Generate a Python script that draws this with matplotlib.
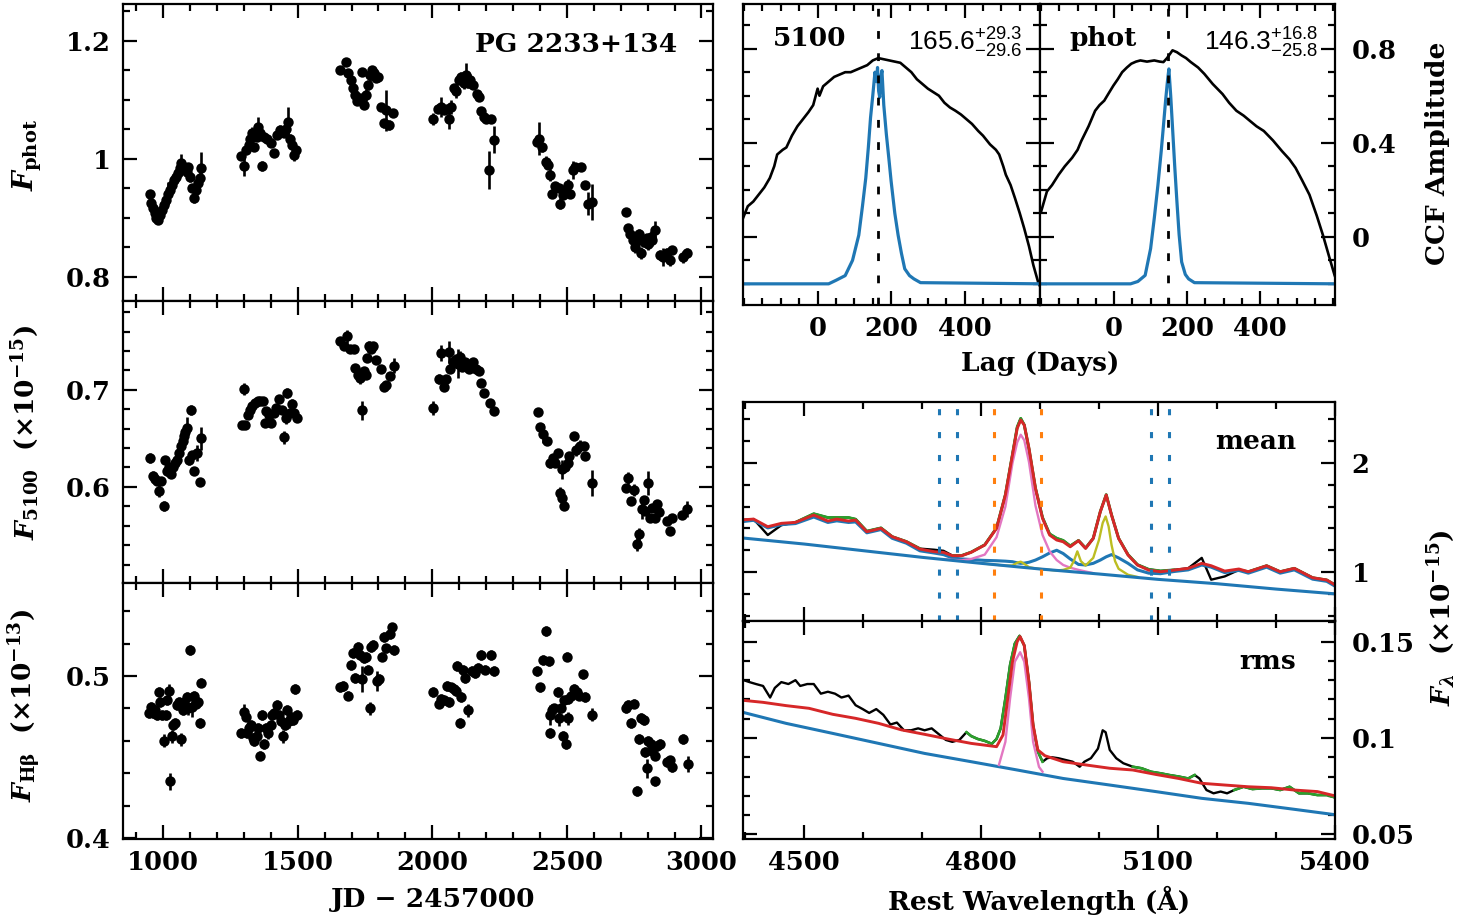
import numpy as np
import matplotlib
matplotlib.use('Agg')
import matplotlib.pyplot as plt
from matplotlib.ticker import MultipleLocator, FixedLocator, FuncFormatter

plt.rcParams['font.family'] = 'DejaVu Serif'
plt.rcParams['font.weight'] = 'bold'
plt.rcParams['mathtext.fontset'] = 'custom'
plt.rcParams['mathtext.rm'] = 'DejaVu Serif:bold'
plt.rcParams['mathtext.bf'] = 'DejaVu Serif:bold'
plt.rcParams['mathtext.it'] = 'DejaVu Serif:italic:bold'
plt.rcParams['mathtext.sf'] = 'Liberation Sans:weight=normal'
plt.rcParams['axes.linewidth'] = 1.6

# ---------------- light curves: (JD-2457000, flux, error) ----------------
phot = [
    (950, 0.941, 0.006), (955, 0.925, 0.006), (963, 0.916, 0.006), (969, 0.908, 0.006), (975, 0.900, 0.006),
    (980, 0.896, 0.006), (988, 0.905, 0.006), (995, 0.913, 0.006), (1002, 0.921, 0.008), (1010, 0.930, 0.006),
    (1017, 0.941, 0.020), (1025, 0.947, 0.008), (1032, 0.955, 0.006), (1040, 0.964, 0.008), (1047, 0.969, 0.006),
    (1054, 0.975, 0.006), (1062, 0.984, 0.006), (1068, 0.993, 0.015), (1077, 0.986, 0.006), (1087, 0.978, 0.006),
    (1094, 0.986, 0.006), (1101, 0.969, 0.008), (1106, 0.950, 0.006), (1114, 0.933, 0.008), (1121, 0.947, 0.006),
    (1129, 0.958, 0.008), (1136, 0.967, 0.010), (1142, 0.984, 0.027),
    (1290, 1.005, 0.006), (1302, 0.988, 0.018), (1309, 1.014, 0.006), (1318, 1.023, 0.006), (1324, 1.034, 0.008),
    (1332, 1.044, 0.010), (1339, 1.019, 0.006), (1347, 1.037, 0.006), (1354, 1.054, 0.017), (1361, 1.043, 0.006),
    (1369, 0.988, 0.008), (1376, 1.037, 0.006), (1386, 1.034, 0.006), (1399, 1.026, 0.006), (1411, 1.009, 0.006),
    (1423, 1.040, 0.006), (1436, 1.049, 0.008), (1448, 1.043, 0.006), (1458, 1.051, 0.008), (1464, 1.063, 0.025),
    (1470, 1.034, 0.008), (1478, 1.023, 0.006), (1485, 1.006, 0.010), (1493, 1.015, 0.006),
    (1658, 1.150, 0.006), (1678, 1.164, 0.006), (1688, 1.145, 0.006), (1698, 1.133, 0.006), (1705, 1.119, 0.008),
    (1714, 1.108, 0.006), (1720, 1.097, 0.006), (1730, 1.102, 0.006), (1740, 1.147, 0.006), (1748, 1.091, 0.006),
    (1753, 1.108, 0.010), (1760, 1.125, 0.008), (1767, 1.142, 0.012), (1775, 1.150, 0.006), (1782, 1.145, 0.006),
    (1790, 1.136, 0.006), (1800, 1.139, 0.006), (1809, 1.088, 0.006), (1819, 1.060, 0.008), (1827, 1.082, 0.035),
    (1839, 1.057, 0.008), (1854, 1.077, 0.006),
    (2002, 1.067, 0.010), (2023, 1.085, 0.008), (2033, 1.088, 0.017), (2043, 1.082, 0.006), (2054, 1.085, 0.006),
    (2061, 1.068, 0.017), (2068, 1.088, 0.012), (2079, 1.119, 0.006), (2088, 1.115, 0.012), (2098, 1.133, 0.006),
    (2108, 1.139, 0.008), (2116, 1.128, 0.010), (2125, 1.142, 0.020), (2132, 1.128, 0.008), (2141, 1.133, 0.010),
    (2153, 1.125, 0.006), (2166, 1.110, 0.006), (2175, 1.104, 0.006), (2182, 1.080, 0.006), (2192, 1.071, 0.006),
    (2199, 1.067, 0.006), (2209, 0.981, 0.032), (2219, 1.067, 0.006), (2229, 1.032, 0.023),
    (2390, 1.029, 0.006), (2397, 1.034, 0.028), (2407, 1.019, 0.008), (2422, 0.995, 0.010), (2430, 0.989, 0.006),
    (2437, 0.972, 0.010), (2444, 0.941, 0.006), (2457, 0.953, 0.006), (2469, 0.950, 0.006), (2475, 0.924, 0.010),
    (2484, 0.938, 0.006), (2494, 0.947, 0.008), (2504, 0.955, 0.010), (2512, 0.941, 0.006), (2524, 0.981, 0.015),
    (2531, 0.986, 0.006), (2551, 0.986, 0.006), (2566, 0.955, 0.006), (2580, 0.924, 0.020), (2593, 0.927, 0.030),
    (2720, 0.910, 0.006), (2727, 0.882, 0.006), (2735, 0.873, 0.006), (2744, 0.862, 0.006), (2754, 0.851, 0.010),
    (2761, 0.862, 0.015), (2769, 0.873, 0.008), (2776, 0.840, 0.010), (2786, 0.859, 0.008), (2796, 0.865, 0.006),
    (2803, 0.856, 0.010), (2811, 0.868, 0.010), (2818, 0.862, 0.010), (2828, 0.879, 0.015), (2847, 0.837, 0.008),
    (2859, 0.834, 0.015), (2871, 0.840, 0.008), (2884, 0.828, 0.010), (2892, 0.845, 0.006), (2933, 0.834, 0.010),
    (2946, 0.840, 0.008),
]

f5100 = [
    (953, 0.630, 0.005), (963, 0.611, 0.005), (970, 0.608, 0.004), (978, 0.606, 0.004), (985, 0.596, 0.006),
    (993, 0.606, 0.004), (1002, 0.580, 0.005), (1007, 0.628, 0.004), (1015, 0.616, 0.005), (1022, 0.621, 0.004),
    (1030, 0.613, 0.004), (1037, 0.621, 0.004), (1045, 0.625, 0.004), (1052, 0.628, 0.004), (1059, 0.635, 0.004),
    (1067, 0.642, 0.005), (1072, 0.647, 0.005), (1077, 0.652, 0.006), (1082, 0.657, 0.005), (1089, 0.661, 0.011),
    (1097, 0.628, 0.005), (1104, 0.679, 0.005), (1109, 0.633, 0.004), (1116, 0.616, 0.004), (1124, 0.635, 0.008),
    (1136, 0.605, 0.004), (1142, 0.650, 0.012),
    (1293, 0.664, 0.004), (1302, 0.701, 0.006), (1306, 0.664, 0.004), (1314, 0.674, 0.004), (1322, 0.679, 0.004),
    (1332, 0.683, 0.004), (1342, 0.686, 0.004), (1351, 0.689, 0.004), (1361, 0.688, 0.004), (1371, 0.688, 0.004),
    (1379, 0.666, 0.004), (1384, 0.678, 0.004), (1394, 0.674, 0.004), (1401, 0.666, 0.004), (1411, 0.676, 0.004),
    (1421, 0.681, 0.004), (1431, 0.691, 0.004), (1441, 0.679, 0.004), (1448, 0.651, 0.007), (1455, 0.671, 0.006),
    (1460, 0.697, 0.005), (1470, 0.676, 0.004), (1478, 0.685, 0.006), (1488, 0.676, 0.004), (1498, 0.671, 0.004),
    (1658, 0.750, 0.004), (1673, 0.745, 0.004), (1683, 0.755, 0.007), (1693, 0.742, 0.004), (1708, 0.742, 0.004),
    (1714, 0.722, 0.004), (1723, 0.715, 0.004), (1730, 0.712, 0.006), (1740, 0.679, 0.010), (1745, 0.719, 0.004),
    (1752, 0.715, 0.004), (1757, 0.733, 0.004), (1764, 0.745, 0.005), (1772, 0.742, 0.004), (1780, 0.745, 0.004),
    (1792, 0.731, 0.004), (1809, 0.721, 0.004), (1819, 0.703, 0.004), (1829, 0.705, 0.004), (1844, 0.714, 0.004),
    (1856, 0.725, 0.008),
    (2002, 0.681, 0.007), (2024, 0.711, 0.005), (2033, 0.738, 0.008), (2042, 0.703, 0.004), (2051, 0.711, 0.004),
    (2061, 0.739, 0.011), (2067, 0.721, 0.004), (2076, 0.729, 0.004), (2085, 0.731, 0.006), (2095, 0.727, 0.015),
    (2104, 0.734, 0.006), (2110, 0.724, 0.004), (2120, 0.729, 0.004), (2129, 0.724, 0.004), (2137, 0.721, 0.004),
    (2150, 0.729, 0.004), (2162, 0.721, 0.004), (2172, 0.719, 0.004), (2182, 0.707, 0.004), (2194, 0.697, 0.004),
    (2215, 0.686, 0.004), (2230, 0.678, 0.004),
    (2391, 0.677, 0.004), (2401, 0.662, 0.004), (2413, 0.655, 0.010), (2426, 0.647, 0.004), (2438, 0.625, 0.006),
    (2447, 0.630, 0.004), (2457, 0.625, 0.004), (2467, 0.635, 0.004), (2473, 0.594, 0.006), (2481, 0.589, 0.004),
    (2491, 0.580, 0.004), (2481, 0.618, 0.010), (2494, 0.621, 0.004), (2504, 0.625, 0.006), (2509, 0.632, 0.004),
    (2525, 0.652, 0.004), (2533, 0.638, 0.006), (2549, 0.642, 0.006), (2562, 0.642, 0.004), (2568, 0.632, 0.004),
    (2593, 0.604, 0.013),
    (2720, 0.599, 0.004), (2727, 0.609, 0.006), (2738, 0.585, 0.004), (2750, 0.597, 0.006), (2760, 0.541, 0.007),
    (2769, 0.551, 0.007), (2779, 0.577, 0.010), (2785, 0.587, 0.004), (2791, 0.575, 0.004), (2801, 0.604, 0.012),
    (2810, 0.568, 0.004), (2818, 0.578, 0.004), (2826, 0.568, 0.004), (2835, 0.582, 0.004), (2843, 0.574, 0.004),
    (2873, 0.565, 0.004), (2882, 0.555, 0.004), (2892, 0.568, 0.004), (2927, 0.571, 0.004), (2946, 0.577, 0.008),
]

fhb = [
    (947, 0.477, 0.003), (955, 0.481, 0.003), (963, 0.477, 0.003), (970, 0.479, 0.003), (978, 0.476, 0.003),
    (985, 0.490, 0.003), (990, 0.484, 0.003), (995, 0.476, 0.003), (1002, 0.460, 0.004), (1009, 0.476, 0.003),
    (1015, 0.485, 0.003), (1021, 0.491, 0.004), (1027, 0.435, 0.005), (1032, 0.463, 0.004), (1037, 0.470, 0.003),
    (1045, 0.471, 0.003), (1052, 0.482, 0.003), (1059, 0.484, 0.003), (1067, 0.461, 0.004), (1072, 0.479, 0.003),
    (1079, 0.484, 0.003), (1087, 0.487, 0.003), (1094, 0.480, 0.004), (1101, 0.516, 0.003), (1106, 0.481, 0.006),
    (1114, 0.488, 0.003), (1121, 0.483, 0.003), (1129, 0.484, 0.003), (1136, 0.471, 0.003), (1142, 0.496, 0.003),
    (1290, 0.465, 0.003), (1302, 0.478, 0.005), (1307, 0.475, 0.003), (1312, 0.465, 0.003), (1319, 0.468, 0.003),
    (1327, 0.470, 0.003), (1334, 0.462, 0.003), (1339, 0.460, 0.003), (1347, 0.463, 0.003), (1354, 0.468, 0.003),
    (1361, 0.451, 0.003), (1369, 0.476, 0.003), (1376, 0.458, 0.003), (1384, 0.468, 0.003), (1391, 0.465, 0.004),
    (1399, 0.470, 0.003), (1406, 0.476, 0.003), (1413, 0.477, 0.003), (1423, 0.482, 0.003), (1431, 0.476, 0.003),
    (1438, 0.472, 0.003), (1446, 0.463, 0.004), (1453, 0.470, 0.003), (1460, 0.479, 0.003), (1468, 0.472, 0.004),
    (1475, 0.475, 0.003), (1483, 0.473, 0.003), (1490, 0.492, 0.003), (1498, 0.476, 0.003),
    (1658, 0.493, 0.003), (1668, 0.494, 0.003), (1688, 0.488, 0.003), (1698, 0.507, 0.003), (1705, 0.514, 0.003),
    (1714, 0.499, 0.003), (1723, 0.518, 0.003), (1730, 0.513, 0.003), (1739, 0.498, 0.008), (1745, 0.511, 0.003),
    (1752, 0.512, 0.003), (1760, 0.504, 0.003), (1767, 0.480, 0.004), (1772, 0.518, 0.003), (1780, 0.519, 0.003),
    (1795, 0.497, 0.006), (1803, 0.498, 0.003), (1814, 0.512, 0.003), (1819, 0.524, 0.003), (1829, 0.517, 0.003),
    (1842, 0.526, 0.003), (1850, 0.530, 0.003), (1856, 0.516, 0.003),
    (2002, 0.490, 0.003), (2024, 0.483, 0.003), (2034, 0.486, 0.003), (2043, 0.485, 0.003), (2054, 0.494, 0.003),
    (2061, 0.484, 0.003), (2071, 0.493, 0.003), (2080, 0.492, 0.003), (2088, 0.491, 0.003), (2093, 0.506, 0.003),
    (2102, 0.471, 0.003), (2108, 0.487, 0.003), (2113, 0.504, 0.003), (2123, 0.499, 0.003), (2133, 0.479, 0.004),
    (2147, 0.503, 0.003), (2160, 0.502, 0.003), (2170, 0.505, 0.003), (2182, 0.513, 0.003), (2197, 0.504, 0.003),
    (2217, 0.513, 0.003), (2229, 0.503, 0.003),
    (2390, 0.503, 0.003), (2401, 0.493, 0.003), (2410, 0.510, 0.003), (2422, 0.528, 0.003), (2432, 0.509, 0.003),
    (2437, 0.476, 0.006), (2437, 0.465, 0.003), (2444, 0.479, 0.004), (2454, 0.480, 0.003), (2467, 0.490, 0.003),
    (2472, 0.474, 0.005), (2477, 0.480, 0.003), (2484, 0.463, 0.003), (2489, 0.485, 0.003), (2496, 0.458, 0.003),
    (2500, 0.512, 0.003), (2504, 0.486, 0.003), (2506, 0.474, 0.004), (2516, 0.488, 0.003), (2526, 0.492, 0.003),
    (2536, 0.490, 0.003), (2546, 0.488, 0.003), (2559, 0.501, 0.003), (2568, 0.487, 0.003), (2593, 0.476, 0.004),
    (2719, 0.480, 0.003), (2729, 0.482, 0.003), (2738, 0.471, 0.003), (2750, 0.483, 0.003), (2760, 0.429, 0.003),
    (2769, 0.461, 0.003), (2776, 0.474, 0.003), (2786, 0.473, 0.003), (2791, 0.453, 0.003), (2798, 0.443, 0.006),
    (2803, 0.460, 0.003), (2811, 0.458, 0.003), (2818, 0.454, 0.003), (2826, 0.451, 0.003), (2828, 0.435, 0.003),
    (2836, 0.457, 0.003), (2845, 0.458, 0.003), (2871, 0.447, 0.003), (2884, 0.448, 0.003), (2892, 0.444, 0.003),
    (2933, 0.461, 0.003), (2949, 0.446, 0.005),
]

# ---------------- CCFs ----------------
ccf5100_lag = [-203, -190, -175, -160, -145, -130, -118, -110, -95, -85, -70, -55, -40, -25, -12, 0, 5, 15, 30,
               45, 60, 75, 90, 105, 120, 135, 150, 165, 180, 195, 210, 225, 240, 255, 270, 285, 300, 315, 330,
               345, 360, 375, 390, 405, 420, 437, 450, 469, 485, 494, 505, 512, 525, 537, 550, 562, 575, 587,
               600, 605]
ccf5100_r = [0.079, 0.13, 0.15, 0.18, 0.21, 0.25, 0.30, 0.35, 0.37, 0.38, 0.43, 0.47, 0.50, 0.53, 0.56, 0.63,
             0.60, 0.64, 0.66, 0.68, 0.69, 0.70, 0.70, 0.71, 0.72, 0.73, 0.75, 0.76, 0.755, 0.75, 0.745, 0.74,
             0.72, 0.70, 0.67, 0.65, 0.63, 0.615, 0.60, 0.57, 0.55, 0.536, 0.52, 0.50, 0.48, 0.45, 0.43, 0.393,
             0.37, 0.35, 0.30, 0.264, 0.22, 0.164, 0.10, 0.036, -0.04, -0.121, -0.193, -0.21]
ccfphot_lag = [-200, -184, -170, -152, -135, -115, -100, -90, -70, -52, -40, -27, -15, -2, 10, 22, 35, 47, 60,
               72, 90, 110, 125, 135, 145, 160, 172, 185, 197, 210, 230, 247, 270, 297, 315, 335, 355, 372, 390,
               410, 435, 460, 480, 497, 515, 535, 555, 572, 590, 604, 610]
ccfphot_r = [0.107, 0.193, 0.22, 0.264, 0.30, 0.336, 0.37, 0.407, 0.47, 0.536, 0.56, 0.579, 0.61, 0.643, 0.67,
             0.70, 0.72, 0.736, 0.745, 0.75, 0.745, 0.75, 0.745, 0.743, 0.76, 0.793, 0.785, 0.771, 0.76, 0.743,
             0.72, 0.693, 0.65, 0.607, 0.57, 0.536, 0.515, 0.493, 0.47, 0.45, 0.41, 0.364, 0.33, 0.293, 0.24,
             0.179, 0.09, 0.007, -0.09, -0.164, -0.19]
cent5100_lag = [-210, 30, 50, 75, 95, 112, 122, 131, 138, 144, 150, 156, 160, 163, 166, 169, 172, 175, 180, 187,
                194, 200, 210, 219, 228, 237, 250, 262, 280, 610]
cent5100_h = [-0.2, -0.2, -0.185, -0.165, -0.10, 0.007, 0.13, 0.25, 0.38, 0.507, 0.60, 0.70, 0.66, 0.72, 0.62,
              0.593, 0.68, 0.707, 0.56, 0.436, 0.33, 0.236, 0.10, 0.007, -0.07, -0.136, -0.165, -0.179, -0.195, -0.2]
centphot_lag = [-210, 45, 65, 85, 100, 110, 120, 129, 135, 141, 146, 150, 155, 160, 166, 172, 178, 185, 195, 204,
                220, 610]
centphot_h = [-0.2, -0.2, -0.19, -0.164, -0.05, 0.079, 0.22, 0.364, 0.47, 0.579, 0.66, 0.714, 0.60, 0.464, 0.30,
              0.15, 0.01, -0.107, -0.16, -0.179, -0.195, -0.2]
lag5100, lagphot = 165.6, 146.3

# ---------------- mean spectrum (1e-15) ----------------
wave_mean = [4391, 4414, 4438, 4461, 4485, 4516, 4540, 4555, 4575, 4587, 4606, 4630, 4649, 4673, 4696, 4720,
             4736, 4751, 4767, 4783, 4806, 4826, 4841, 4853, 4861, 4867, 4873, 4881, 4892, 4904, 4916, 4928,
             4939, 4951, 4965, 4977, 4990, 5002, 5012, 5021, 5033, 5049, 5065, 5084, 5104, 5127, 5151, 5174,
             5190, 5213, 5237, 5253, 5284, 5307, 5331, 5362, 5386, 5405]
mean_obs = [1.477, 1.486, 1.34, 1.43, 1.456, 1.535, 1.50, 1.50, 1.50, 1.485, 1.375, 1.405, 1.325, 1.28, 1.215,
            1.205, 1.195, 1.152, 1.152, 1.183, 1.25, 1.405, 1.71, 2.08, 2.33, 2.41, 2.35, 2.13, 1.77, 1.50, 1.35,
            1.31, 1.29, 1.24, 1.29, 1.22, 1.31, 1.555, 1.71, 1.525, 1.31, 1.16, 1.068, 1.025, 1.01, 1.02, 1.035,
            1.13, 0.93, 0.96, 1.02, 1.003, 1.058, 1.003, 1.034, 0.948, 0.927, 0.866]
mean_model = [1.477, 1.486, 1.416, 1.447, 1.456, 1.523, 1.468, 1.486, 1.468, 1.477, 1.370, 1.401, 1.324, 1.278,
              1.211, 1.187, 1.181, 1.150, 1.150, 1.181, 1.248, 1.401, 1.707, 2.074, 2.318, 2.395, 2.349, 2.135,
              1.768, 1.492, 1.340, 1.294, 1.278, 1.232, 1.288, 1.217, 1.309, 1.554, 1.707, 1.523, 1.309, 1.156,
              1.064, 1.018, 1.003, 1.018, 1.034, 1.080, 1.058, 1.009, 1.028, 1.003, 1.058, 1.003, 1.034, 0.948,
              0.927, 0.866]
mean_feii = [1.46, 1.475, 1.405, 1.435, 1.445, 1.505, 1.455, 1.47, 1.455, 1.46, 1.36, 1.39, 1.31, 1.265, 1.195,
             1.175, 1.16, 1.13, 1.12, 1.115, 1.107, 1.104, 1.10, 1.095, 1.085, 1.08, 1.082, 1.09, 1.11, 1.14,
             1.175, 1.20, 1.17, 1.12, 1.07, 1.065, 1.08, 1.11, 1.14, 1.16, 1.13, 1.08, 1.02, 0.99, 0.985, 1.005,
             1.02, 1.065, 1.045, 0.995, 1.015, 0.99, 1.045, 0.99, 1.02, 0.935, 0.915, 0.855]
cont_mean_wave = [4391, 4500, 4600, 4700, 4800, 4900, 5000, 5100, 5200, 5300, 5405]
cont_mean = [1.315, 1.257, 1.196, 1.135, 1.080, 1.028, 0.982, 0.933, 0.893, 0.844, 0.798]
hb_mean_wave = [4736, 4751, 4767, 4783, 4806, 4826, 4841, 4853, 4861, 4867, 4873, 4881, 4892, 4904, 4916, 4928,
                4939, 4951, 4965, 4977, 4990]
hb_mean = [1.118, 1.112, 1.108, 1.12, 1.16, 1.32, 1.60, 2.00, 2.19, 2.26, 2.21, 2.01, 1.61, 1.34, 1.19, 1.11,
           1.065, 1.04, 1.02, 1.005, 0.99]
oiii_mean_wave = [4806, 4826, 4841, 4853, 4861, 4867, 4873, 4881, 4892, 4904, 4916, 4928, 4939, 4951, 4957, 4963,
                  4969, 4977, 4990, 5000, 5006, 5011, 5016, 5021, 5027, 5033, 5049, 5065]
oiii_mean = [1.077, 1.067, 1.059, 1.06, 1.085, 1.095, 1.075, 1.045, 1.033, 1.026, 1.02, 1.014, 1.02, 1.04, 1.10,
             1.19, 1.10, 1.06, 1.13, 1.30, 1.45, 1.51, 1.42, 1.25, 1.10, 1.03, 0.975, 0.955]
fit_windows = [(4470, 4700), (4745, 5150), (5222, 5405)]
blue_windows = [4729, 4759, 5088, 5118]
line_window = [4821, 4902]

# ---------------- rms spectrum (1e-15) ----------------
wave_rms = [4397, 4407, 4418, 4430, 4442, 4450, 4461, 4473, 4485, 4493, 4505, 4516, 4528, 4540, 4552, 4563, 4575,
            4587, 4599, 4610, 4622, 4634, 4646, 4657, 4669, 4681, 4693, 4704, 4716, 4728, 4740, 4751, 4763, 4775,
            4783, 4794, 4806, 4818, 4826, 4833, 4841, 4849, 4857, 4865, 4873, 4881, 4888, 4896, 4904, 4912, 4920,
            4931, 4943, 4955, 4967, 4975, 4986, 4998, 5006, 5011, 5018, 5029, 5041, 5057, 5072, 5088, 5104, 5119,
            5135, 5151, 5162, 5170, 5182, 5194, 5206, 5217, 5229, 5245, 5260, 5276, 5292, 5307, 5323, 5339, 5354,
            5370, 5386, 5405]
rms_obs = [0.130, 0.129, 0.128, 0.127, 0.121, 0.126, 0.129, 0.128, 0.130, 0.127, 0.128, 0.128, 0.123, 0.124,
           0.123, 0.121, 0.122, 0.117, 0.115, 0.113, 0.115, 0.112, 0.107, 0.108, 0.104, 0.104, 0.105, 0.104, 0.105,
           0.102, 0.099, 0.098, 0.099, 0.103, 0.101, 0.0995, 0.0985, 0.097, 0.0995, 0.105, 0.1206, 0.138, 0.149,
           0.153, 0.148, 0.129, 0.1067, 0.093, 0.0877, 0.0895, 0.090, 0.0895, 0.0886, 0.0877, 0.0851, 0.0877,
           0.0895, 0.0945, 0.104, 0.103, 0.0938, 0.0895, 0.0869, 0.0851, 0.0843, 0.0825, 0.0817, 0.0808, 0.080,
           0.079, 0.0808, 0.079, 0.073, 0.0713, 0.0722, 0.0713, 0.073, 0.0747, 0.0735, 0.0739, 0.0739, 0.073,
           0.0747, 0.0713, 0.0713, 0.0704, 0.0704, 0.0687]
rms_model_wave = [4391, 4430, 4469, 4508, 4548, 4587, 4626, 4665, 4704, 4743, 4783, 4826, 4837, 4845, 4853, 4861,
                  4866, 4873, 4881, 4888, 4896, 4908, 4939, 4978, 5018, 5057, 5096, 5135, 5174, 5213, 5253, 5292,
                  5331, 5370, 5405]
rms_model = [0.1197, 0.1185, 0.1168, 0.1154, 0.1123, 0.1102, 0.1076, 0.1042, 0.1019, 0.0995, 0.0972, 0.0955,
             0.1016, 0.1206, 0.1396, 0.150, 0.1526, 0.148, 0.129, 0.1067, 0.0938, 0.0908, 0.0877, 0.086, 0.0843,
             0.0834, 0.0811, 0.079, 0.0765, 0.0756, 0.0747, 0.0742, 0.073, 0.0722, 0.0696]
cont_rms_wave = [4391, 4469, 4548, 4626, 4704, 4783, 4861, 4939, 5018, 5096, 5174, 5253, 5331, 5405]
cont_rms = [0.1137, 0.1076, 0.1024, 0.0972, 0.092, 0.0877, 0.0834, 0.079, 0.0756, 0.0722, 0.0687, 0.0661, 0.063,
            0.060]
hb_rms_wave = [4830, 4841, 4849, 4857, 4866, 4873, 4881, 4888, 4898, 4904]
hb_rms = [0.086, 0.098, 0.1206, 0.1396, 0.1445, 0.1396, 0.1206, 0.098, 0.085, 0.0825]
rms_fit_windows = [(4770, 4910), (5055, 5162), (5225, 5405)]

BLUE, RED, GREEN, PINK, YEL, ORANGE = '#1f77b4', '#d62728', '#2ca02c', '#e377c2', '#bcbd22', '#ff7f0e'

fig = plt.figure(figsize=(14.61, 9.19), dpi=100)
W, H = 1461.0, 919.0
TICK_FS = 18.5


def add_ax(x0, y0, x1, y1):
    return fig.add_axes([x0 / W, 1 - y1 / H, (x1 - x0) / W, (y1 - y0) / H])


gfmt = FuncFormatter(lambda v, p: f'{v:g}')


def style(ax, lab_left=False, lab_right=False, lab_bottom=False):
    ax.tick_params(which='both', direction='in', top=True, bottom=True, left=True, right=True,
                   width=1.6, labelsize=TICK_FS, labelleft=lab_left, labelright=lab_right,
                   labelbottom=lab_bottom)
    ax.tick_params(which='major', length=10)
    ax.tick_params(which='minor', length=5)
    ax.tick_params(axis='y', pad=9)
    ax.tick_params(axis='x', pad=8)
    ax.xaxis.set_major_formatter(gfmt)
    ax.yaxis.set_major_formatter(gfmt)


# ---- light-curve panels ----
lc_specs = [
    (phot, (4, 301), (0.759, 1.262), 0.2, 0.05),
    (f5100, (301, 583), (0.501, 0.7915), 0.1, 0.02),
    (fhb, (583, 839), (0.3995, 0.5574), 0.1, 0.02),
]
lc_axes = []
for i, (data, (ya, yb), ylim, maj, mnr) in enumerate(lc_specs):
    ax = add_ax(123.3, ya, 713, yb)
    arr = np.array(data)
    ax.errorbar(arr[:, 0], arr[:, 1], yerr=arr[:, 2], fmt='o', color='k', ms=7.5, elinewidth=1.9,
                capsize=0, mew=0)
    ax.set_xlim(852, 3043)
    ax.set_ylim(*ylim)
    ax.xaxis.set_major_locator(MultipleLocator(500))
    ax.xaxis.set_minor_locator(MultipleLocator(100))
    ax.yaxis.set_major_locator(MultipleLocator(maj))
    ax.yaxis.set_minor_locator(MultipleLocator(mnr))
    style(ax, lab_left=True, lab_bottom=(i == 2))
    lc_axes.append(ax)

lc_axes[0].text(0.939, 0.862, 'PG 2233+134', transform=lc_axes[0].transAxes, ha='right', va='center',
                fontsize=19)

# ---- CCF panels ----
ccf_specs = [
    (743, 1040, ccf5100_lag, ccf5100_r, cent5100_lag, cent5100_h, lag5100, '5100',
     r'$\mathsf{165.6}^{\mathsf{+29.3}}_{\mathsf{-29.6}}$', 0.94),
    (1040, 1335, ccfphot_lag, ccfphot_r, centphot_lag, centphot_h, lagphot, 'phot',
     r'$\mathsf{146.3}^{\mathsf{+16.8}}_{\mathsf{-25.8}}$', 0.942),
]
for j, (xa, xb, lg, rr, cl, ch, lag, name, txt, tx) in enumerate(ccf_specs):
    ax = add_ax(xa, 4, xb, 305)
    ax.plot(lg, rr, color='k', lw=1.9)
    ax.plot(cl, ch, color=BLUE, lw=2.3)
    ax.axvline(lag, color='k', lw=2.0, ls=(0, (2.8, 5.2)))
    ax.set_xlim(-203, 605)
    ax.set_ylim(-0.29, 0.99)
    ax.xaxis.set_major_locator(FixedLocator([0, 200, 400]))
    ax.xaxis.set_minor_locator(MultipleLocator(50))
    ax.yaxis.set_major_locator(MultipleLocator(0.4))
    ax.yaxis.set_minor_locator(MultipleLocator(0.1))
    style(ax, lab_right=(j == 1), lab_bottom=True)
    ax.tick_params(axis='y', pad=12)
    ax.text(0.10, 0.885, name, transform=ax.transAxes, ha='left', va='center', fontsize=19)
    ax.text(tx, 0.87, txt, transform=ax.transAxes, ha='right', va='center', fontsize=19)

fig.text(1040 / W, 1 - 363 / H, 'Lag (Days)', ha='center', va='center', fontsize=19)
fig.text(1437 / W, 1 - 153 / H, 'CCF Amplitude', ha='center', va='center', rotation=90, fontsize=19)

# ---- mean spectrum ----
axm = add_ax(743, 401.7, 1335, 621)
axm.plot(wave_mean, mean_obs, color='k', lw=1.7)
wm = np.array(wave_mean)
om = np.array(mean_obs)
for lo, hi in fit_windows:
    sel = (wm >= lo) & (wm <= hi)
    axm.plot(wm[sel], om[sel], color=GREEN, lw=2.1)
axm.plot(wave_mean, mean_feii, color=BLUE, lw=2.2)
axm.plot(hb_mean_wave, hb_mean, color=PINK, lw=1.7)
axm.plot(oiii_mean_wave, oiii_mean, color=YEL, lw=1.7)
axm.plot(cont_mean_wave, cont_mean, color=BLUE, lw=2.2)
axm.plot(wave_mean, mean_model, color=RED, lw=2.1)
for xv in blue_windows:
    axm.axvline(xv, color=BLUE, lw=2.2, ls=(0, (2, 5.5)))
for xv in line_window:
    axm.axvline(xv, color=ORANGE, lw=2.2, ls=(0, (2, 5.5)))
axm.set_xlim(4396, 5400)
axm.set_ylim(0.551, 2.563)
axm.xaxis.set_major_locator(MultipleLocator(300))
axm.xaxis.set_minor_locator(MultipleLocator(100))
axm.yaxis.set_major_locator(MultipleLocator(1))
axm.yaxis.set_minor_locator(MultipleLocator(0.2))
style(axm, lab_right=True)
axm.tick_params(axis='y', pad=12)
axm.text(0.934, 0.82, 'mean', transform=axm.transAxes, ha='right', va='center', fontsize=19)

# ---- rms spectrum ----
axr = add_ax(743, 621, 1335, 839)
axr.plot(wave_rms, rms_obs, color='k', lw=1.7)
wr = np.array(wave_rms)
orr = np.array(rms_obs)
for lo, hi in rms_fit_windows:
    sel = (wr >= lo) & (wr <= hi)
    axr.plot(wr[sel], orr[sel], color=GREEN, lw=1.9)
axr.plot(cont_rms_wave, cont_rms, color=BLUE, lw=2.2)
axr.plot(hb_rms_wave, hb_rms, color=PINK, lw=1.7)
axr.plot(rms_model_wave, rms_model, color=RED, lw=2.1)
axr.set_xlim(4396, 5400)
axr.set_ylim(0.0476, 0.1607)
axr.xaxis.set_major_locator(MultipleLocator(300))
axr.xaxis.set_minor_locator(MultipleLocator(100))
axr.yaxis.set_major_locator(MultipleLocator(0.05))
axr.yaxis.set_minor_locator(MultipleLocator(0.01))
style(axr, lab_right=True, lab_bottom=True)
axr.tick_params(axis='y', pad=12)
axr.text(0.934, 0.815, 'rms', transform=axr.transAxes, ha='right', va='center', fontsize=19)

# ---- axis labels ----
fig.text(433 / W, 1 - 900 / H, 'JD \u2212 2457000', ha='center', va='center', fontsize=19)
fig.text(1039 / W, 1 - 900 / H, 'Rest Wavelength (\u00c5)', ha='center', va='center', fontsize=19)
fig.text(27 / W, 1 - 155 / H, '$F_{\\rm phot}$', ha='center', va='center', rotation=90, fontsize=20)
fig.text(25 / W, 1 - 432 / H, '$F_{5100}$  (\u00d710$^{-15}$)', ha='center', va='center', rotation=90,
         fontsize=19)
fig.text(25 / W, 1 - 705 / H, '$F_{\\rm H\\beta}$  (\u00d710$^{-13}$)', ha='center', va='center', rotation=90,
         fontsize=19)
fig.text(1441 / W, 1 - 618 / H, '$F_\\lambda$  (\u00d710$^{-15}$)', ha='center', va='center', rotation=90,
         fontsize=19)

fig.savefig('out.png', dpi=100)
